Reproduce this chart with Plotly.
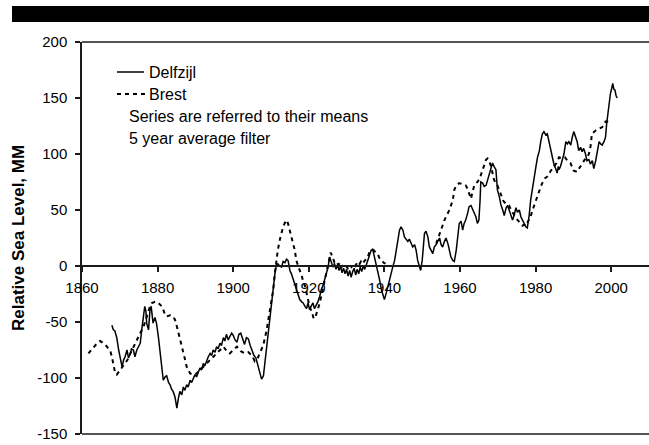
import plotly.graph_objects as go

# ---------------- data ----------------
delf_year = [1867.9,1868.3,1868.7,1869.2,1869.7,1870.1,1870.6,1871.0,1871.4,1871.9,1872.3,1872.7,1873.1,1873.6,1874.0,1874.5,1874.9,1875.4,1875.8,1876.3,1876.6,1876.9,1877.1,1877.6,1878.0,1878.3,1878.8,1879.3,1879.7,1880.2,1880.7,1881.1,1881.5,1882.0,1882.4,1882.9,1883.3,1883.7,1884.1,1884.6,1885.1,1885.5,1885.9,1886.4,1886.8,1887.2,1887.7,1888.1,1888.6,1889.0,1889.5,1889.9,1890.3,1890.8,1891.2,1891.6,1892.1,1892.5,1893.0,1893.4,1893.9,1894.3,1894.7,1895.2,1895.6,1896.0,1896.5,1896.9,1897.4,1897.8,1898.2,1898.7,1899.1,1899.6,1900.0,1900.5,1901.0,1901.5,1902.0,1902.5,1903.0,1903.5,1904.0,1904.5,1905.0,1905.5,1906.0,1906.5,1907.0,1907.5,1908.0,1908.4,1908.8,1909.2,1909.7,1910.1,1910.6,1911.0,1911.4,1911.8,1912.3,1912.8,1913.2,1913.7,1914.1,1914.5,1914.8,1915.0,1915.4,1915.8,1916.3,1916.7,1917.2,1917.6,1918.1,1918.5,1919.0,1919.4,1919.8,1920.2,1920.6,1921.1,1921.5,1922.0,1922.4,1922.9,1923.3,1923.8,1924.2,1924.6,1925.1,1925.5,1925.9,1926.4,1926.8,1927.2,1927.6,1928.0,1928.4,1928.8,1929.2,1929.6,1930.0,1930.4,1930.8,1931.2,1931.6,1932.0,1932.4,1932.8,1933.2,1933.6,1934.0,1934.4,1934.8,1935.2,1935.6,1936.1,1936.5,1936.9,1937.4,1937.8,1938.2,1938.7,1939.2,1939.6,1940.0,1940.5,1940.9,1941.3,1941.8,1942.2,1942.7,1943.1,1943.6,1944.0,1944.4,1944.9,1945.3,1945.7,1946.2,1946.6,1947.1,1947.5,1948.0,1948.4,1948.8,1949.3,1949.6,1950.0,1950.3,1950.6,1951.0,1951.5,1951.9,1952.4,1952.8,1953.2,1953.7,1954.1,1954.6,1955.0,1955.4,1955.9,1956.3,1956.8,1957.2,1957.6,1958.1,1958.5,1959.0,1959.4,1959.8,1960.3,1960.7,1961.1,1961.5,1962.0,1962.4,1962.9,1963.3,1963.7,1964.2,1964.6,1965.0,1965.3,1965.5,1966.0,1966.4,1966.9,1967.3,1967.8,1968.2,1968.6,1969.0,1969.5,1969.7,1969.9,1970.4,1970.8,1971.3,1971.7,1972.2,1972.6,1973.0,1973.5,1973.9,1974.3,1974.8,1975.2,1975.7,1976.1,1976.6,1977.0,1977.4,1977.8,1978.3,1978.7,1979.2,1979.6,1980.1,1980.5,1981.0,1981.4,1981.8,1982.2,1982.7,1983.1,1983.5,1984.0,1984.4,1984.9,1985.3,1985.7,1986.0,1986.2,1986.6,1987.1,1987.5,1988.0,1988.4,1988.8,1989.3,1989.7,1990.1,1990.6,1991.0,1991.4,1991.9,1992.3,1992.7,1993.2,1993.6,1994.1,1994.5,1995.0,1995.4,1995.9,1996.3,1996.8,1997.2,1997.6,1998.1,1998.5,1998.8,1999.2,1999.6,1999.8,2000.1,2000.4,2000.7,2001.0,2001.3,2001.6]
delf_mm = [-53,-57,-58,-64,-75,-81,-90,-84,-81,-75,-82,-79,-74,-75,-81,-75,-72,-69,-57,-45,-36,-40,-51,-57,-39,-36,-51,-46,-51,-63,-78,-93,-102,-99,-98,-104,-106,-110,-112,-117,-127,-118,-112,-115,-108,-111,-106,-108,-102,-104,-100,-97,-99,-94,-91,-93,-87,-89,-84,-81,-78,-80,-75,-77,-72,-74,-69,-71,-64,-67,-61,-66,-63,-60,-62,-66,-68,-61,-60,-65,-70,-64,-65,-71,-75,-80,-82,-88,-95,-101,-98,-86,-70,-58,-45,-30,-18,-8,1,2,0,-1,4,3,6,5,0,-4,-7,-11,-15,-20,-26,-30,-32,-33,-36,-38,-33,-39,-36,-33,-38,-35,-32,-27,-21,-17,-12,-7,-1,8,3,-1,2,-3,1,-4,0,-6,-2,-7,-3,-9,-4,-10,-5,-2,-8,-3,-7,-1,-5,0,-3,2,5,10,14,15,8,2,-4,-12,-21,-27,-30,-24,-18,-12,-7,-1,5,14,23,32,35,32,26,24,22,24,20,17,19,14,5,-2,-4,5,20,29,31,26,17,14,11,17,19,22,25,19,17,22,25,20,14,8,5,4,14,26,38,40,32,38,41,47,53,54,51,48,44,38,41,58,75,74,71,72,77,83,89,92,89,86,77,68,62,55,50,45,52,54,50,44,41,45,52,48,50,44,40,37,35,34,45,59,71,80,89,97,103,112,118,120,117,118,112,106,97,90,87,83,89,86,89,95,100,111,109,111,108,115,120,115,111,103,106,102,105,100,94,95,91,94,87,94,103,111,109,108,111,115,127,139,148,154,158,163,158,157,152,150]

brest_year = [1861.7,1862.2,1863.1,1864.0,1864.8,1865.7,1866.6,1867.5,1867.9,1868.3,1868.8,1869.2,1870.1,1871.0,1872.0,1872.8,1873.6,1874.5,1875.4,1876.3,1877.1,1877.6,1878.0,1878.5,1879.3,1880.2,1881.1,1881.5,1882.0,1882.4,1883.3,1884.1,1884.6,1885.1,1885.5,1885.9,1886.4,1886.8,1887.3,1887.7,1888.1,1888.6,1889.5,1890.3,1891.2,1892.1,1893.0,1893.8,1894.7,1895.6,1896.5,1897.4,1898.3,1899.1,1900.0,1901.0,1902.0,1903.0,1904.0,1905.0,1905.7,1906.5,1907.3,1908.0,1908.8,1909.3,1909.7,1910.2,1910.6,1911.0,1911.4,1911.8,1912.3,1912.7,1913.2,1913.6,1914.1,1914.5,1915.0,1915.4,1915.8,1916.3,1916.7,1917.2,1917.6,1918.1,1918.5,1919.0,1919.4,1919.8,1920.2,1920.9,1921.3,1921.8,1922.3,1922.8,1923.3,1923.8,1924.3,1924.8,1925.3,1925.8,1926.3,1926.8,1927.3,1927.8,1928.3,1928.8,1929.3,1929.8,1930.3,1930.8,1931.3,1931.8,1932.3,1932.8,1933.3,1933.8,1934.3,1934.8,1935.3,1935.8,1936.1,1936.6,1937.2,1937.7,1938.2,1938.7,1939.2,1939.8,1940.3,1946.0,1953.7,1954.6,1955.3,1955.9,1956.6,1957.2,1958.1,1958.5,1959.0,1959.8,1960.7,1961.5,1962.0,1962.4,1962.9,1963.3,1963.8,1964.2,1964.6,1965.2,1965.6,1966.0,1966.5,1966.9,1967.3,1967.8,1968.2,1968.6,1969.0,1969.9,1970.4,1971.0,1971.5,1972.0,1972.5,1973.0,1973.5,1974.0,1974.5,1975.0,1975.5,1976.0,1976.5,1977.0,1977.5,1978.0,1978.5,1979.2,1980.0,1980.8,1981.5,1982.3,1983.2,1984.0,1984.8,1985.5,1986.2,1987.0,1987.8,1988.4,1989.2,1990.1,1991.0,1991.5,1992.3,1993.0,1993.6,1994.1,1994.5,1994.9,1995.9,1996.8,1997.6,1998.1,1998.5,1999.4]
brest_mm = [-78,-76,-72,-69,-67,-69,-72,-76,-81,-88,-96,-97,-93,-88,-84,-78,-72,-66,-60,-54,-45,-39,-36,-33,-32,-33,-36,-39,-44,-45,-44,-45,-48,-54,-60,-66,-72,-78,-84,-90,-93,-96,-97,-96,-93,-90,-87,-84,-81,-78,-75,-72,-76,-78,-75,-72,-76,-78,-77,-80,-85,-82,-76,-70,-58,-48,-39,-30,-21,-7,4,14,23,29,35,38,41,38,32,26,20,14,5,-1,-4,-8,-14,-18,-24,-30,-36,-42,-47,-45,-40,-34,-27,-19,-11,-3,6,12,8,3,4,1,3,-1,2,0,-2,1,-1,2,0,3,1,4,2,5,6,10,13,14,14,12,11,7,5,3,2,None,20,29,35,41,46,50,59,68,72,74,73,72,69,65,60,66,72,74,75,78,82,86,93,95,96,93,89,84,77,72,68,62,58,56,55,54,50,47,44,42,40,38,36,37,36,40,42,50,58,66,72,78,80,85,88,92,97,96,97,94,92,85,84,87,92,95,97,100,106,118,121,123,124,126,129,129]

x_ticks = [1860, 1880, 1900, 1920, 1940, 1960, 1980, 2000]
y_ticks = [-150, -100, -50, 0, 50, 100, 150, 200]

FONT = "Liberation Sans, Arial, sans-serif"
AX = "#1a1a1a"

fig = go.Figure()
fig.add_trace(go.Scatter(x=brest_year, y=brest_mm, mode="lines", name="Brest",
                         line=dict(color="black", width=2, dash="4px,4px"),
                         connectgaps=False, showlegend=False))
fig.add_trace(go.Scatter(x=delf_year, y=delf_mm, mode="lines", name="Delfzijl",
                         line=dict(color="black", width=1.5),
                         showlegend=False))

L, T, B = 82, 42, 11
H = 445 - T - B
W = 649 - L

def px(x):
    return (x - L) / W

def py(y):
    return (445 - B - y) / H

shapes = [
    dict(type="rect", xref="paper", yref="paper", x0=px(12), x1=px(652), y0=py(22), y1=py(6),
         fillcolor="black", line=dict(width=0), layer="above"),
    dict(type="line", xref="paper", yref="paper", x0=0, x1=1.01, y0=1, y1=1, line=dict(color=AX, width=1.5)),
    dict(type="line", xref="paper", yref="paper", x0=0, x1=1.01, y0=0, y1=0, line=dict(color=AX, width=1.5)),
    dict(type="line", xref="paper", yref="paper", x0=px(117), x1=px(144), y0=py(72), y1=py(72),
         line=dict(color="black", width=1.5)),
    dict(type="line", xref="paper", yref="paper", x0=px(117), x1=px(145), y0=py(94), y1=py(94),
         line=dict(color="black", width=2, dash="4px,4px")),
]

LEG = 16
ann = [
    dict(text="Delfzijl", x=px(147), y=py(72), xref="paper", yref="paper", xanchor="left", yanchor="middle",
         showarrow=False, font=dict(family=FONT, size=LEG, color="black")),
    dict(text="Brest", x=px(147), y=py(94), xref="paper", yref="paper", xanchor="left", yanchor="middle",
         showarrow=False, font=dict(family=FONT, size=LEG, color="black")),
    dict(text="Series are referred to their means", x=px(127), y=py(116), xref="paper", yref="paper",
         xanchor="left", yanchor="middle", showarrow=False, font=dict(family=FONT, size=LEG, color="black")),
    dict(text="5 year average filter", x=px(127), y=py(138), xref="paper", yref="paper",
         xanchor="left", yanchor="middle", showarrow=False, font=dict(family=FONT, size=LEG, color="black")),
    dict(text="<b>Relative Sea Level, MM</b>", x=px(18), y=0.5, xref="paper", yref="paper",
         xanchor="center", yanchor="middle", textangle=-90, showarrow=False,
         font=dict(family=FONT, size=17, color="black")),
]

fig.update_layout(
    width=649, height=445,
    margin=dict(l=L, r=0, t=T, b=B, pad=0),
    paper_bgcolor="white", plot_bgcolor="white",
    font=dict(family=FONT, size=15, color="black"),
    shapes=shapes, annotations=ann,
    xaxis=dict(range=[1860, 2010], tickvals=x_ticks, ticktext=[str(v) for v in x_ticks],
               ticks="outside", ticklen=5, tickwidth=1.5, tickcolor=AX,
               showline=True, linecolor=AX, linewidth=1.5,
               anchor="free", position=150 / 350,
               showgrid=False, zeroline=False, ticklabelstandoff=3,
               tickfont=dict(family=FONT, size=15, color="black")),
    yaxis=dict(range=[-150, 200], tickvals=y_ticks, ticktext=[str(v) for v in y_ticks],
               ticks="outside", ticklen=5, tickwidth=1.5, tickcolor=AX,
               showline=True, linecolor=AX, linewidth=1.5,
               showgrid=False, zeroline=False, ticklabelstandoff=5,
               tickfont=dict(family=FONT, size=15, color="black")),
)

fig.write_html("out.html")
